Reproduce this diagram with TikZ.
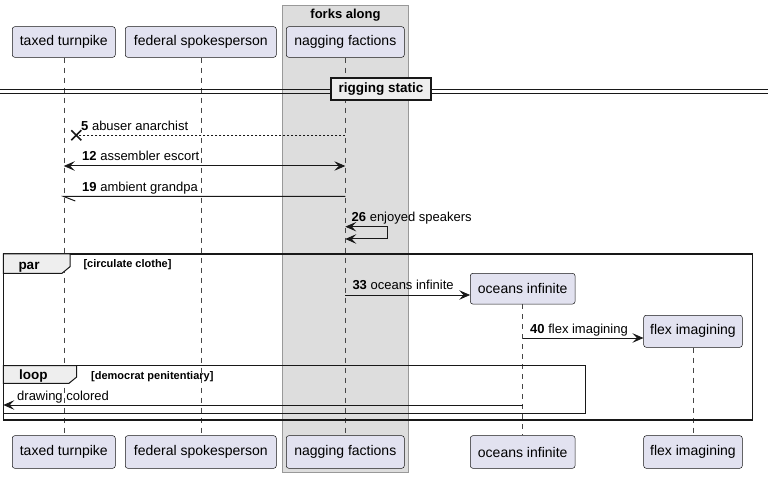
\documentclass[tikz,border=0pt]{standalone}
\usepackage{fontspec}
\setmainfont{Liberation Sans}
\usetikzlibrary{arrows.meta,calc}
\definecolor{partfill}{HTML}{E2E2F0}
\definecolor{ink}{HTML}{181818}
\definecolor{boxgray}{HTML}{DDDDDD}
\definecolor{boxline}{HTML}{999999}
\definecolor{tabfill}{HTML}{EEEEEE}
\begin{document}
\begin{tikzpicture}[x=1pt,y=-1pt,
  part/.style={draw=ink, line width=0.5pt, fill=partfill, rounded corners=2.5pt, inner sep=0pt, font=\fontsize{14}{16}\selectfont},
  life/.style={draw=ink!80, line width=0.6pt, dash pattern=on 5pt off 5pt},
  msg/.style={draw=ink, line width=1pt},
  tipr/.style={-{Stealth[length=11pt,width=9.5pt,inset=4.5pt,line width=0.8pt]}},
  tipb/.style={{Stealth[length=11pt,width=9.5pt,inset=4.5pt,line width=0.8pt]}-{Stealth[length=11pt,width=9.5pt,inset=4.5pt,line width=0.8pt]}},
  mlabel/.style={font=\fontsize{13}{15}\selectfont, anchor=base west, inner sep=0pt},
  grpframe/.style={draw=ink, line width=1.5pt},
  tabshape/.style={draw=ink, line width=1pt, fill=tabfill},
  tablabel/.style={font=\fontsize{13.5}{15}\selectfont\bfseries, anchor=base west, inner sep=0pt},
  condlabel/.style={font=\fontsize{11}{13}\selectfont\bfseries, anchor=base west, inner sep=0pt},
]
\useasboundingbox (0,0) rectangle (768,478);
\fill[white] (0,0) rectangle (768,478);

% box "forks along"
\draw[fill=boxgray, draw=boxline, line width=1pt] (282.7,6) rectangle (408.3,472.7);
\node[font=\fontsize{13}{15}\selectfont\bfseries, inner sep=0pt] (boxlbl) at (345.5,15.5) {forks along};

% participants
\node[part, minimum width=103pt, minimum height=30.6pt] (tt) at (63.8,42) {taxed turnpike};
\node[part, minimum width=151pt, minimum height=30.6pt] (fs) at (200.8,42) {federal spokesperson};
\node[part, minimum width=118pt, minimum height=30.6pt] (nf) at (345.3,42) {nagging factions};
\node[part, minimum width=104.7pt, minimum height=30.7pt] (oi) at (522.7,288.7) {oceans infinite};
\node[part, minimum width=98.6pt, minimum height=32pt] (fi) at (693,331.3) {flex imagining};

\node[part, minimum width=103pt, minimum height=32.6pt] (ttb) at (63.8,452) {taxed turnpike};
\node[part, minimum width=151pt, minimum height=32.6pt] (fsb) at (200.8,452) {federal spokesperson};
\node[part, minimum width=118pt, minimum height=32.6pt] (nfb) at (345.3,452) {nagging factions};
\node[part, minimum width=104.7pt, minimum height=32.6pt] (oib) at (522.7,452) {oceans infinite};
\node[part, minimum width=98.6pt, minimum height=32.6pt] (fib) at (693,452) {flex imagining};

% lifelines
\draw[life] (tt.south) -- (ttb.north);
\draw[life] (fs.south) -- (fsb.north);
\draw[life] (nf.south) -- (nfb.north);
\draw[life] (oi.south) -- (oib.north);
\draw[life] (fi.south) -- (fib.north);

% divider
\draw[ink, line width=1pt] (0,89.3) -- (768,89.3);
\draw[ink, line width=1pt] (0,93.3) -- (768,93.3);
\node[draw=ink, line width=2pt, fill=tabfill, minimum width=100pt, minimum height=22pt, inner sep=0pt,
      font=\fontsize{13.5}{15}\selectfont\bfseries] (div) at (381,89.5) {rigging static};

% row coordinates
\coordinate (r5) at (0,135.3);
\coordinate (r12) at (0,166);
\coordinate (r19) at (0,196.5);
\coordinate (r26a) at (0,226.7);
\coordinate (r26b) at (0,239);
\coordinate (r33) at (0,295);
\coordinate (r40) at (0,338);
\coordinate (rdc) at (0,405);

% message 5 (lost / destroy)
\coordinate (x5) at ($(tt |- r5)+(12.5,0)$);
\draw[msg, dash pattern=on 2pt off 2pt] (nf |- r5) -- (x5);
\draw[ink, line width=1.6pt] ($(x5)+(-5,-5)$) -- ($(x5)+(5,5)$) ($(x5)+(-5,5)$) -- ($(x5)+(5,-5)$);
\node[mlabel] (l5) at (81,130.7) {\textbf{5} abuser anarchist};

% message 12
\draw[msg, tipb] (tt |- r12) -- (nf |- r12);
\node[mlabel] (l12) at (82,160.7) {\textbf{12} assembler escort};

% message 19 (half arrow)
\draw[msg] (nf |- r19) -- (tt |- r19) -- ++(11.5,4.5);
\node[mlabel] (l19) at (82,191.3) {\textbf{19} ambient grandpa};

% message 26 (self)
\coordinate (s26) at (387.7,0);
\draw[msg, tipb] (nf |- r26a) -- (s26 |- r26a) -- (s26 |- r26b) -- (nf |- r26b);
\node[mlabel] (l26) at (351.5,221.5) {\textbf{26} enjoyed speakers};

% par frame
\draw[grpframe] (3.3,254) rectangle (752.7,420);
\draw[tabshape] (3.3,254) -- (70,254) -- (70,266.7) -- (62,273.3) -- (3.3,273.3) -- cycle;
\node[tablabel] (tpar) at (18.3,269.5) {par};
\node[condlabel] (cpar) at (83.3,267.5) {[circulate clothe]};

% message 33
\draw[msg, tipr] (nf |- r33) -- (oi.west |- r33);
\node[mlabel] (l33) at (352.3,290) {\textbf{33} oceans infinite};

% message 40
\draw[msg, tipr] (oi |- r40) -- (fi.west |- r40);
\node[mlabel] (l40) at (530,333.3) {\textbf{40} flex imagining};

% loop frame
\draw[grpframe] (3.3,365.7) rectangle (585.3,413.3);
\draw[tabshape] (3.3,365.7) -- (76.7,365.7) -- (76.7,377) -- (69,383.3) -- (3.3,383.3) -- cycle;
\node[tablabel] (tloop) at (19,379) {loop};
\node[condlabel] (cloop) at (91,379) {[democrat penitentiary]};

% drawing colored
\coordinate (lend) at (3.3,0);
\draw[msg, tipr] (oi |- rdc) -- (lend |- rdc);
\node[mlabel] (ldc) at (17,400) {drawing colored};
\end{tikzpicture}
\end{document}
